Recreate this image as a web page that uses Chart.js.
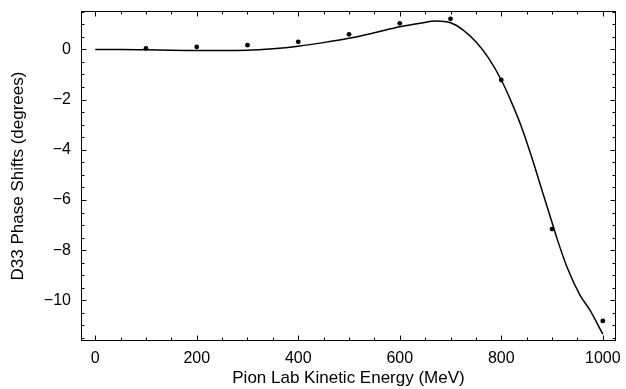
<!DOCTYPE html>
<html>
<head>
<meta charset="utf-8">
<script src="https://cdn.jsdelivr.net/npm/chart.js@4.4.1/dist/chart.umd.min.js"></script>
<style>
  body { margin: 0; background: #fff; }
  #wrap { width: 626px; height: 389px; }
</style>
</head>
<body>
<div id="wrap"><canvas id="phaseChart" width="626" height="389"></canvas></div>
<script>
// measured points (lab kinetic energy, MeV)
const energies = [100, 200, 300, 400, 500, 600, 700, 800, 900, 1000];
const phaseShifts = [0.04, 0.10, 0.17, 0.30, 0.60, 1.04, 1.22, -1.22, -7.16, -10.82];

// model curve
const curveX = [0, 50, 100, 150, 200, 250, 300, 350, 400, 450, 500, 550, 600, 640, 672, 700,
                725, 750, 775, 800, 820, 840, 860, 880, 900, 910, 930, 955, 975, 1000];
const curveY = [0, 0, -0.01, -0.03, -0.04, -0.04, -0.03, 0.03, 0.13, 0.27, 0.44, 0.66, 0.90, 1.04, 1.13, 1.06,
                0.77, 0.30, -0.35, -1.22, -2.1, -3.1, -4.3, -5.6, -6.9, -7.55, -8.7, -9.79, -10.4, -11.35];

const xTicks = [0, 200, 400, 600, 800, 1000];
const yTicks = [-10, -8, -6, -4, -2, 0];

const xMinor = [];
for (let v = 0; v <= 1000; v += 50) xMinor.push(v);
const yMinor = [];
for (let v = -11.5; v <= 1.5; v += 0.5) yMinor.push(v);

const fontFamily = '"Liberation Sans", Arial, Helvetica, sans-serif';

// box around the plot with inward ticks on all four sides
const frameTicks = {
    id: 'frameTicks',
    afterDraw(chart) {
        const { ctx, chartArea: a, scales: { x, y } } = chart;
        const L = Math.round(a.left) + 0.5, R = Math.round(a.right) - 0.5;
        const T = Math.round(a.top) + 0.5, B = Math.round(a.bottom) - 0.5;
        ctx.save();
        ctx.strokeStyle = '#000';
        ctx.lineWidth = 1;
        ctx.strokeRect(L, T, R - L, B - T);
        ctx.beginPath();
        xMinor.forEach(v => {
            const px = Math.round(x.getPixelForValue(v)) + 0.5;
            const len = xTicks.includes(v) ? 5 : 3;
            ctx.moveTo(px, B); ctx.lineTo(px, B - len);
            ctx.moveTo(px, T); ctx.lineTo(px, T + len);
        });
        yMinor.forEach(v => {
            const py = Math.round(y.getPixelForValue(v)) + 0.5;
            const len = yTicks.includes(v) ? 5 : 3;
            ctx.moveTo(L, py); ctx.lineTo(L + len, py);
            ctx.moveTo(R, py); ctx.lineTo(R - len, py);
        });
        ctx.stroke();
        ctx.restore();
    }
};

const fmt = v => String(v).replace('-', '\u2212');

new Chart(document.getElementById('phaseChart'), {
    type: 'scatter',
    data: {
        datasets: [
            {
                label: 'model',
                data: curveX.map((e, i) => ({ x: e, y: curveY[i] })),
                showLine: true,
                borderColor: '#000',
                borderWidth: 1.5,
                pointRadius: 0,
                cubicInterpolationMode: 'monotone'
            },
            {
                label: 'data',
                data: energies.map((e, i) => ({ x: e, y: phaseShifts[i] })),
                backgroundColor: '#000',
                borderColor: '#000',
                pointRadius: 2.4,
                borderWidth: 0
            }
        ]
    },
    options: {
        responsive: false,
        animation: false,
        layout: { padding: { left: 0, top: 11, right: 10, bottom: 0 } },
        plugins: { legend: { display: false }, tooltip: { enabled: false } },
        scales: {
            x: {
                type: 'linear',
                min: -28,
                max: 1026,
                afterBuildTicks: s => { s.ticks = xTicks.map(v => ({ value: v })); },
                afterFit: s => { s.height = 48; s.paddingLeft = 0; s.paddingRight = 0; },
                grid: { display: false, drawTicks: false },
                border: { display: false },
                ticks: {
                    padding: 8,
                    color: '#000',
                    font: { family: fontFamily, size: 16 },
                    callback: fmt,
                    maxRotation: 0
                },
                title: {
                    display: true,
                    text: 'Pion Lab Kinetic Energy (MeV)',
                    color: '#000',
                    font: { family: fontFamily, size: 17 },
                    padding: { top: 0, bottom: 0 }
                }
            },
            y: {
                type: 'linear',
                min: -11.62,
                max: 1.53,
                afterBuildTicks: s => { s.ticks = yTicks.map(v => ({ value: v })); },
                afterFit: s => { s.width = 81; s.paddingTop = 0; s.paddingBottom = 0; },
                grid: { display: false, drawTicks: false },
                border: { display: false },
                ticks: {
                    padding: 10,
                    color: '#000',
                    font: { family: fontFamily, size: 16 },
                    callback: fmt
                },
                title: {
                    display: true,
                    text: 'D33 Phase Shifts (degrees)',
                    color: '#000',
                    font: { family: fontFamily, size: 17 },
                    padding: { top: 8, bottom: 0 }
                }
            }
        }
    },
    plugins: [frameTicks]
});
</script>
</body>
</html>
